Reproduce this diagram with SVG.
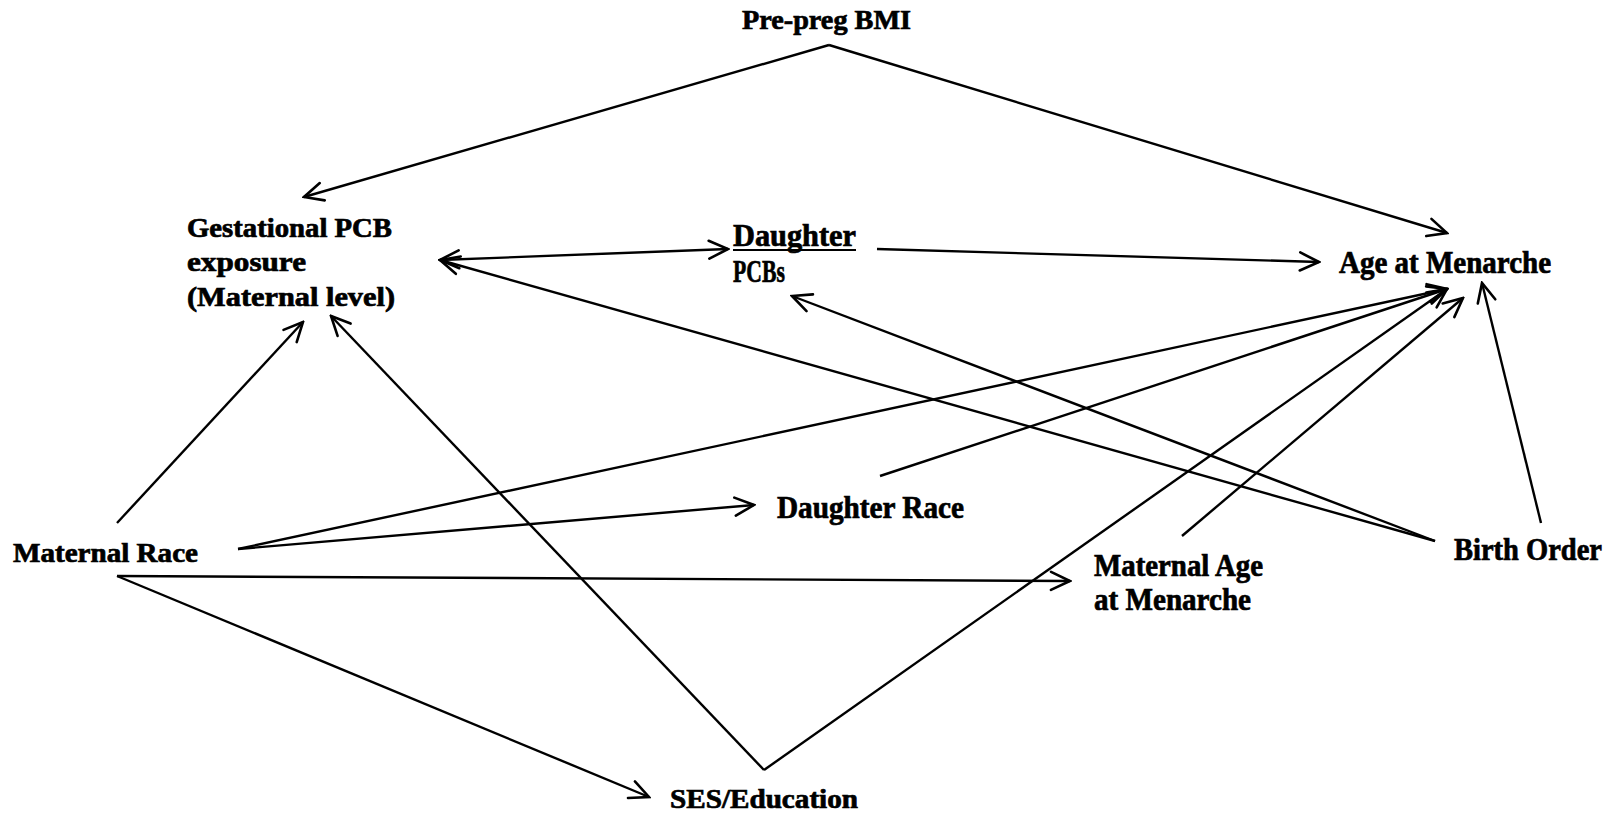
<svg xmlns="http://www.w3.org/2000/svg" width="1613" height="818" viewBox="0 0 1613 818">
<style>
.t{font-family:"Liberation Serif","DejaVu Serif",serif;font-weight:bold;font-size:27px;fill:#000;stroke:#000;stroke-width:0.7}
.c{font-family:"Liberation Serif","DejaVu Serif",serif;font-weight:bold;font-size:31px;fill:#000;stroke:#000;stroke-width:0.7}
.e{fill:none;stroke:#000;stroke-width:2.4}
</style>
<defs>
<marker id="ah" viewBox="-22 -12 24 24" refX="0" refY="0" markerWidth="24" markerHeight="24" markerUnits="userSpaceOnUse" orient="auto-start-reverse">
<path d="M-19,-9 L0,0 L-19,9" fill="none" stroke="#000" stroke-width="2.6" stroke-linecap="round" stroke-linejoin="miter"/>
</marker>
</defs>
<rect width="1613" height="818" fill="#fff"/>
<g id="connectors">
<path class="e" d="M829,45 L304,197" marker-end="url(#ah)"/>
<path class="e" d="M829,45 L1447,233" marker-end="url(#ah)"/>
<path class="e" d="M440,260 L728,249" marker-start="url(#ah)" marker-end="url(#ah)"/>
<path class="e" d="M877,249 L1319,262" marker-end="url(#ah)"/>
<path class="e" d="M1435,541 L440,260" marker-end="url(#ah)"/>
<path class="e" d="M1435,541 L792,296" marker-end="url(#ah)"/>
<path class="e" d="M1541,523 L1482,283" marker-end="url(#ah)"/>
<path class="e" d="M1182,536 L1463,298" marker-end="url(#ah)"/>
<path class="e" d="M764,770 L1447,289" marker-end="url(#ah)"/>
<path class="e" d="M238,549 L1447,289" marker-end="url(#ah)"/>
<path class="e" d="M880,476 L1447,289" marker-end="url(#ah)"/>
<path class="e" d="M238,549 L754,505" marker-end="url(#ah)"/>
<path class="e" d="M117,523 L303,322" marker-end="url(#ah)"/>
<path class="e" d="M764,770 L331,316" marker-end="url(#ah)"/>
<path class="e" d="M117,576 L1070,581" marker-end="url(#ah)"/>
<path class="e" d="M117,576 L649,797" marker-end="url(#ah)"/>
</g>
<g id="prepreg"><text class="t" x="742" y="29" textLength="169" lengthAdjust="spacingAndGlyphs">Pre-preg BMI</text></g>
<g id="gestational">
<text class="t" x="187" y="237" textLength="205" lengthAdjust="spacingAndGlyphs">Gestational PCB</text>
<text class="t" x="187" y="271" textLength="119" lengthAdjust="spacingAndGlyphs">exposure</text>
<text class="t" x="187" y="306" textLength="208" lengthAdjust="spacingAndGlyphs">(Maternal level)</text>
</g>
<g id="daughterpcbs">
<text class="c" x="733" y="246" textLength="123" lengthAdjust="spacingAndGlyphs">Daughter</text>
<line x1="733" y1="250" x2="856" y2="250" stroke="#000" stroke-width="2"/>
<text class="c" transform="translate(733,282) scale(0.7,1)">PCBs</text>
</g>
<g id="agemenarche"><text class="c" x="1339" y="273" textLength="212" lengthAdjust="spacingAndGlyphs">Age at Menarche</text></g>
<g id="maternalrace"><text class="t" x="13" y="562" textLength="185" lengthAdjust="spacingAndGlyphs">Maternal Race</text></g>
<g id="daughterrace"><text class="c" x="777" y="518" textLength="187" lengthAdjust="spacingAndGlyphs">Daughter Race</text></g>
<g id="maternalage">
<text class="c" x="1094" y="576" textLength="169" lengthAdjust="spacingAndGlyphs">Maternal Age</text>
<text class="c" x="1094" y="610" textLength="157" lengthAdjust="spacingAndGlyphs">at Menarche</text>
</g>
<g id="birthorder"><text class="c" x="1454" y="560" textLength="148" lengthAdjust="spacingAndGlyphs">Birth Order</text></g>
<g id="ses"><text class="t" x="670" y="808" textLength="188" lengthAdjust="spacingAndGlyphs">SES/Education</text></g>
</svg>
